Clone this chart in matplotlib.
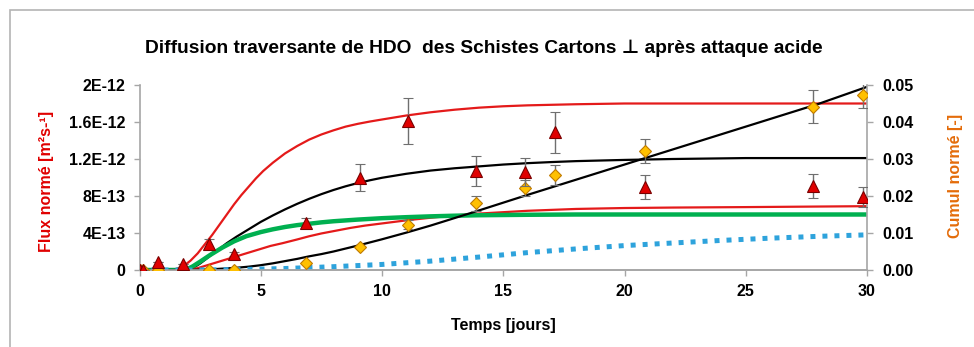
import matplotlib
matplotlib.use("Agg")
import matplotlib.pyplot as plt
from matplotlib.patches import Rectangle

plt.rcParams['font.family'] = ['Liberation Sans', 'DejaVu Sans']
plt.rcParams['font.weight'] = 'bold'

# ---------------- data ----------------
title = "Diffusion traversante de HDO  des Schistes Cartons \u22a5 après attaque acide"
x_label = "Temps [jours]"
flux_label = "Flux normé [m\u00b2s-\u00b9]"
cumul_label = "Cumul normé [-]"

x_ticks = [0, 5, 10, 15, 20, 25, 30]
flux_ticks = [0, 4e-13, 8e-13, 1.2e-12, 1.6e-12, 2e-12]
flux_tick_labels = ["0", "4E-13", "8E-13", "1.2E-12", "1.6E-12", "2E-12"]
cumul_ticks = [0.0, 0.01, 0.02, 0.03, 0.04, 0.05]
cumul_tick_labels = ["0.00", "0.01", "0.02", "0.03", "0.04", "0.05"]

# measured flux (triangles), left axis
flux_days = [0.0, 0.15, 0.78, 1.81, 2.88, 3.91, 6.87, 9.09, 11.08, 13.86, 15.9, 17.13, 20.85, 27.76, 29.84]
flux_vals = [0.0, 0.0, 0.09e-12, 0.07e-12, 0.28e-12, 0.17e-12, 0.51e-12, 1.0e-12, 1.61e-12,
             1.07e-12, 1.06e-12, 1.49e-12, 0.90e-12, 0.91e-12, 0.79e-12]
flux_err = [0.0, 0.0, 0.0, 0.0, 0.05e-12, 0.02e-12, 0.05e-12, 0.15e-12, 0.25e-12,
            0.16e-12, 0.15e-12, 0.22e-12, 0.13e-12, 0.13e-12, 0.11e-12]

# measured cumulative (diamonds), right axis
cumul_days = [0.0, 0.15, 0.78, 1.81, 2.88, 3.91, 6.87, 9.09, 11.08, 13.86, 15.9, 17.13, 20.85, 27.76, 29.84]
cumul_vals = [0.0, 0.0, 0.0, 0.0, 0.0, 0.0, 0.0018, 0.0063, 0.0122, 0.018, 0.0221, 0.0257,
              0.0322, 0.0441, 0.0473]
cumul_err = [0.0, 0.0, 0.0, 0.0, 0.0, 0.0, 0.0, 0.0, 0.0012, 0.002, 0.0022, 0.0027,
             0.0032, 0.0045, 0.0034]

# model curves
red_hi_days = [0, 1.2, 1.5, 1.8, 2.1, 2.4, 2.7, 3.0, 3.3, 3.6, 3.9, 4.2, 4.5, 4.8, 5.1, 5.5,
               6.0, 6.5, 7.0, 7.5, 8.0, 8.5, 9.0, 9.5, 10, 11, 12, 13, 14, 15, 16, 18, 20, 25, 30]
red_hi_vals = [0, 0, 0.01e-12, 0.04e-12, 0.10e-12, 0.18e-12, 0.28e-12, 0.38e-12, 0.49e-12,
               0.60e-12, 0.71e-12, 0.81e-12, 0.90e-12, 0.99e-12, 1.07e-12, 1.16e-12, 1.26e-12,
               1.34e-12, 1.41e-12, 1.465e-12, 1.51e-12, 1.55e-12, 1.58e-12, 1.605e-12, 1.627e-12,
               1.67e-12, 1.705e-12, 1.733e-12, 1.755e-12, 1.77e-12, 1.78e-12, 1.792e-12, 1.80e-12,
               1.80e-12, 1.80e-12]

black_hi_days = [0, 1.9, 2.2, 2.5, 2.8, 3.2, 3.6, 4.0, 4.5, 5.0, 5.5, 6.0, 6.5, 7.0, 7.5, 8.0,
                 8.5, 9.0, 9.5, 10, 11, 12, 13, 14, 15, 16, 17, 18, 20, 22, 25, 30]
black_hi_vals = [0, 0, 0.02e-12, 0.07e-12, 0.13e-12, 0.21e-12, 0.29e-12, 0.36e-12, 0.44e-12,
                 0.52e-12, 0.59e-12, 0.655e-12, 0.715e-12, 0.77e-12, 0.82e-12, 0.865e-12,
                 0.905e-12, 0.94e-12, 0.97e-12, 0.997e-12, 1.04e-12, 1.075e-12, 1.10e-12,
                 1.12e-12, 1.14e-12, 1.155e-12, 1.167e-12, 1.177e-12, 1.19e-12, 1.20e-12,
                 1.21e-12, 1.21e-12]

green_days = [0, 1.9, 2.2, 2.5, 2.9, 3.4, 3.9, 4.4, 5.0, 5.5, 6.0, 6.5, 7.0, 7.5, 8.0, 9.0,
              10, 11, 12, 13, 14, 16, 18, 30]
green_vals = [0, 0, 0.04e-12, 0.09e-12, 0.16e-12, 0.24e-12, 0.31e-12, 0.365e-12, 0.41e-12,
              0.44e-12, 0.465e-12, 0.485e-12, 0.50e-12, 0.515e-12, 0.527e-12, 0.545e-12,
              0.56e-12, 0.571e-12, 0.58e-12, 0.587e-12, 0.592e-12, 0.597e-12, 0.60e-12, 0.60e-12]

red_lo_days = [0, 1.9, 2.4, 2.9, 3.4, 3.9, 4.4, 4.9, 5.4, 5.9, 6.5, 7.0, 7.5, 8.0, 8.7, 9.3,
               9.9, 10.5, 11.1, 12, 13, 14, 15, 16, 17, 18, 20, 22, 25, 30]
red_lo_vals = [0, 0, 0.02e-12, 0.06e-12, 0.10e-12, 0.14e-12, 0.18e-12, 0.22e-12, 0.26e-12,
               0.29e-12, 0.33e-12, 0.365e-12, 0.395e-12, 0.42e-12, 0.455e-12, 0.48e-12,
               0.50e-12, 0.52e-12, 0.54e-12, 0.565e-12, 0.59e-12, 0.61e-12, 0.625e-12,
               0.64e-12, 0.65e-12, 0.66e-12, 0.67e-12, 0.675e-12, 0.68e-12, 0.69e-12]

black_cum_days = [0, 2, 2.5, 3, 3.5, 4, 4.5, 5, 5.5, 6, 6.5, 7, 7.5, 8, 9, 10, 11, 12, 14, 16,
                  18, 20, 22, 24, 26, 28, 30]
black_cum_vals = [0, 0, 0.0001, 0.0002, 0.0004, 0.0006, 0.0009, 0.0013, 0.0018, 0.0024,
                  0.0030, 0.0037, 0.0043, 0.0050, 0.0066, 0.0083, 0.0101, 0.0120, 0.0161,
                  0.0203, 0.0244, 0.0285, 0.0326, 0.0367, 0.0408, 0.0449, 0.0495]

blue_days = [0, 2, 4, 6, 8, 10, 12, 14, 16, 18, 20, 22, 24, 26, 28, 30]
blue_vals = [0, 0, 0.0001, 0.0004, 0.0009, 0.0015, 0.0024, 0.0035, 0.0047, 0.0057, 0.0066,
             0.0073, 0.0080, 0.0086, 0.0091, 0.0095]

# ---------------- figure ----------------
W, H = 974, 347
fig = plt.figure(figsize=(W / 100, H / 100), dpi=100)
ax = fig.add_axes([139.5 / W, 1 - 270 / H, (867 - 139.5) / W, (270 - 85) / H])
ax2 = ax.twinx()

# outer chart frame
fig.add_artist(Rectangle((9.5 / W, -0.1), 1.2, (H - 9.5) / H + 0.1, transform=fig.transFigure,
                         fill=False, edgecolor='#b4b4b4', linewidth=1.2, clip_on=False))

RED = '#e41a1a'
axis_col = '#a6a6a6'

ax.plot(red_hi_days, red_hi_vals, color=RED, lw=1.6, zorder=2)
ax.plot(black_hi_days, black_hi_vals, color='black', lw=1.6, zorder=2)
ax.plot(red_lo_days, red_lo_vals, color=RED, lw=1.6, zorder=2)
ax.plot(green_days, green_vals, color='#00b050', lw=3.2, zorder=2, solid_capstyle='butt')

ax2.plot(black_cum_days, black_cum_vals, color='black', lw=1.6, zorder=2)
ax2.plot(blue_days, blue_vals, color='#2ea3dc', lw=3.6, zorder=2,
         dashes=(1.0, 1.4), dash_capstyle='butt')

ax2.errorbar(cumul_days, cumul_vals, yerr=cumul_err, fmt='D', ms=6, mfc='#ffc000',
             mec='#c07a00', mew=0.8, ecolor='#6f6f6f', elinewidth=1.0, capsize=3.5,
             capthick=1.0, zorder=4)
ax2.errorbar(flux_days, [v / 2e-12 * 0.05 for v in flux_vals],
             yerr=[e / 2e-12 * 0.05 for e in flux_err], fmt='^', ms=9, mfc='#e00000',
             mec='#7a0000', mew=0.8, ecolor='#6f6f6f', elinewidth=1.0, capsize=3.5,
             capthick=1.0, zorder=5)

ax.set_xlim(0, 30)
ax.set_ylim(0, 2e-12)
ax2.set_ylim(0, 0.05)

ax.set_xticks(x_ticks)
ax.set_xticklabels([str(t) for t in x_ticks])
ax.set_yticks(flux_ticks)
ax.set_yticklabels(flux_tick_labels)
ax2.set_yticks(cumul_ticks)
ax2.set_yticklabels(cumul_tick_labels)

for a in (ax, ax2):
    a.set_facecolor('none')
    a.spines['top'].set_visible(False)
    for s in ('left', 'right', 'bottom'):
        a.spines[s].set_color(axis_col)
        a.spines[s].set_linewidth(1.2)
    a.tick_params(axis='both', which='both', direction='out', length=4, width=1.0,
                  color=axis_col, labelsize=11.5, labelcolor='black')
ax.tick_params(axis='x', pad=6)
ax.tick_params(axis='y', pad=6)
ax2.tick_params(axis='y', pad=7)
ax2.spines['left'].set_visible(False)
ax.spines['right'].set_visible(False)

ax.set_xlabel(x_label, fontsize=11.5, fontweight='bold')
ax.xaxis.set_label_coords(0.5, -0.262)
ax.set_ylabel(flux_label, fontsize=11.5, fontweight='bold', color='#e00000')
ax.yaxis.set_label_coords(-0.118, 0.48)
ax2.set_ylabel(cumul_label, fontsize=11.5, fontweight='bold', color='#e46c0a')
ax2.yaxis.set_label_coords(1.111, 0.51)

fig.text(484 / W, 1 - 48.5 / H, title, ha='center', va='center', fontsize=13.8, fontweight='bold')

fig.savefig('out.png', dpi=100)
